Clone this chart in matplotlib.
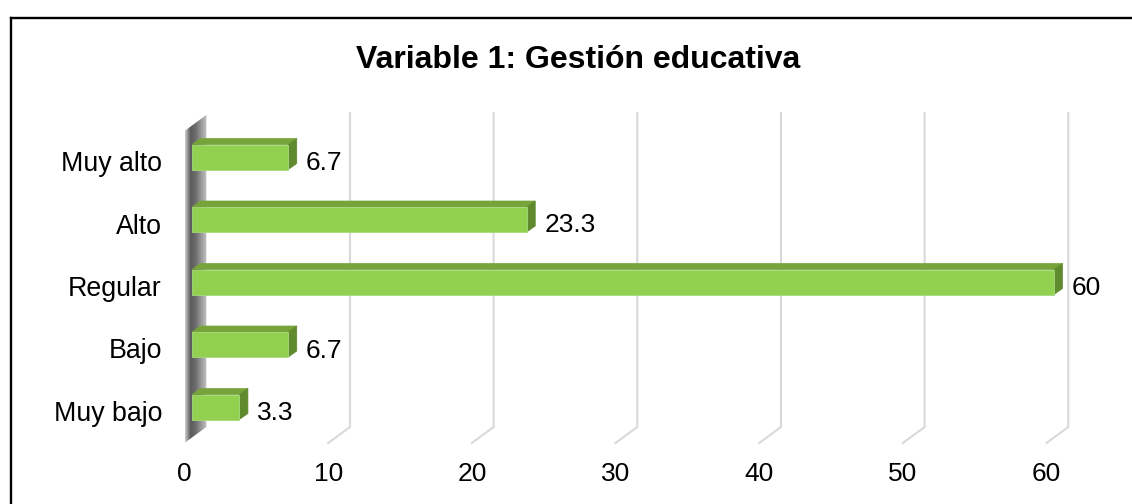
import numpy as np
import matplotlib
matplotlib.use("Agg")
import matplotlib.pyplot as plt
from matplotlib.patches import Polygon
from matplotlib.lines import Line2D
from matplotlib.colors import LinearSegmentedColormap

plt.rcParams['font.family'] = ['Liberation Sans', 'DejaVu Sans']

# ---- data ----
categories = ["Muy bajo", "Bajo", "Regular", "Alto", "Muy alto"]
values = [3.3, 6.7, 60, 23.3, 6.7]
value_labels = ["3.3", "6.7", "60", "23.3", "6.7"]
xticks = [0, 10, 20, 30, 40, 50, 60]
title = "Variable 1: Gestión educativa"

# ---- layout (pixel based) ----
W, H = 1132, 504
X0_PX = 192.0          # x pixel of value 0 on bar front plane
PX_PER_UNIT = 862.0 / 60
Y0_PX = 407.0          # y pixel of first category centre
PX_PER_CAT = 62.5
ux = 1.0 / PX_PER_UNIT
uy = 1.0 / PX_PER_CAT

fig = plt.figure(figsize=(W / 100, H / 100), dpi=100)
ax = fig.add_axes([0, 0, 1, 1])
ax.set_xlim(-X0_PX * ux, (W - X0_PX) * ux)
ax.set_ylim((Y0_PX - H) * uy, Y0_PX * uy)
ax.axis('off')

# depth geometry
front_dx = -7.5 * ux
back_dx = 14.3 * ux
floor_front = -36 * uy      # 443 px
floor_back = -20 * uy       # 427 px
wall_top_front = (Y0_PX - 131) * uy
wall_top_back = (Y0_PX - 115) * uy
grid_top = (Y0_PX - 113) * uy

# ---- wall ----
wall = Polygon([(front_dx, floor_front), (front_dx, wall_top_front),
                (back_dx, wall_top_back), (back_dx, floor_back)],
               closed=True, facecolor='none', edgecolor='none')
ax.add_patch(wall)
cmap = LinearSegmentedColormap.from_list(
    'wall', ['#d0d0d0', '#5a5a5a', '#6e6e6e', '#9a9a9a', '#c4c4c4'])
grad = np.linspace(0, 1, 256)[None, :]
im = ax.imshow(grad, extent=[front_dx, back_dx, floor_front, wall_top_back],
               aspect='auto', cmap=cmap, zorder=1, interpolation='bilinear')
im.set_clip_path(wall)
ax.set_xlim(-X0_PX * ux, (W - X0_PX) * ux)
ax.set_ylim((Y0_PX - H) * uy, Y0_PX * uy)

# ---- gridlines ----
for v in xticks[1:]:
    ax.plot([v + back_dx, v + back_dx, v + front_dx],
            [grid_top, floor_back, floor_front],
            color='#d9d9d9', lw=1.5, zorder=2, solid_joinstyle='miter')

# ---- bars ----
bh = 25 * uy
ddx = 8.5 * ux
ddy = 6 * uy
c_front = '#92d050'
c_top = '#77a33b'
c_side = '#5f8a2e'
for i, v in enumerate(values):
    yb, yt = i - bh / 2, i + bh / 2
    ax.add_patch(Polygon([(0, yt), (v, yt), (v + ddx, yt + ddy), (ddx, yt + ddy)],
                         closed=True, facecolor=c_top, edgecolor=c_top, lw=0.5, zorder=3))
    ax.add_patch(Polygon([(v, yb), (v + ddx, yb + ddy), (v + ddx, yt + ddy), (v, yt)],
                         closed=True, facecolor=c_side, edgecolor=c_side, lw=0.5, zorder=3))
    ax.add_patch(Polygon([(0, yb), (v, yb), (v, yt), (0, yt)],
                         closed=True, facecolor=c_front, edgecolor='#a6d97c', lw=0.6, zorder=4))
    ax.text(v + ddx + 9 * ux, i - 6 * uy, value_labels[i], ha='left', va='center',
            fontsize=19, color='black', zorder=5)
    ax.text(-30 * ux, i - 7 * uy, categories[i], ha='right', va='center',
            fontsize=19.3, color='black', zorder=5)

# ---- x tick labels ----
for v in xticks:
    ax.text(v + front_dx, (Y0_PX - 474) * uy, str(v), ha='center', va='center',
            fontsize=19, color='black')

# ---- title ----
fig.text(578 / W, 1 - 60 / H, title, ha='center', va='center',
         fontsize=23, fontweight='bold', color='black')

# ---- border ----
fig.add_artist(Line2D([10.5 / W, 10.5 / W], [0, 1 - 17.5 / H],
                      transform=fig.transFigure, color='black', lw=1.7))
fig.add_artist(Line2D([10.5 / W, 1], [1 - 17.5 / H, 1 - 17.5 / H],
                      transform=fig.transFigure, color='black', lw=1.7))

fig.savefig('out.png', dpi=100, facecolor='white')
